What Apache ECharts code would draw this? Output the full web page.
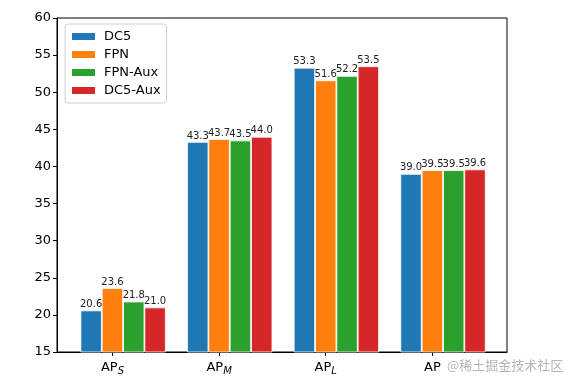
<!DOCTYPE html>
<html>
<head>
<meta charset="utf-8">
<script src="https://cdn.jsdelivr.net/npm/echarts@6/dist/echarts.min.js"></script>
<style>html,body{margin:0;padding:0;background:#fff;}#c{width:565px;height:385px;}</style>
</head>
<body>
<div id="c"></div>
<script>
const categories = ['AP_S', 'AP_M', 'AP_L', 'AP'];
const seriesNames = ['DC5', 'FPN', 'FPN-Aux', 'DC5-Aux'];
const dc5 = [20.6, 43.3, 53.3, 39.0];
const fpn = [23.6, 43.7, 51.6, 39.5];
const fpnAux = [21.8, 43.5, 52.2, 39.5];
const dc5Aux = [21.0, 44.0, 53.5, 39.6];
const yTicks = [15, 20, 25, 30, 35, 40, 45, 50, 55, 60];

const colors = ['#1f77b4', '#ff7f0e', '#2ca02c', '#d62728'];
const allValues = [dc5, fpn, fpnAux, dc5Aux];
const offsets = [-0.2, 0, 0.2, 0.4];
const font = 'DejaVu Sans';

const chart = echarts.init(document.getElementById('c'), null, {renderer: 'canvas'});
const labelFor = function (v) {
  const i = Math.round(v);
  const c = categories[i];
  if (!c) return '';
  const parts = c.split('_');
  return '{a|' + parts[0] + '}{s|' + (parts.length > 1 ? parts[1] : '\u200b') + '}';
};
chart.setOption({
  animation: false,
  backgroundColor: '#fff',
  textStyle: {fontFamily: font},
  grid: {left: 57, right: 58, top: 18, bottom: 33, show: true, borderColor: '#000', borderWidth: 1, containLabel: false},
  legend: {
    data: seriesNames, orient: 'vertical', left: 65, top: 24,
    backgroundColor: '#fff', borderColor: '#d0d0d0', borderWidth: 1, borderRadius: 3,
    padding: [6, 6, 6, 5], itemWidth: 25, itemHeight: 9, itemGap: 5, icon: 'rect',
    textStyle: {fontSize: 13, color: '#000', fontFamily: font, padding: [0, 0, 0, 3]}
  },
  xAxis: {
    type: 'value', min: -0.52, max: 3.70,
    axisLine: {show: true, onZero: false, lineStyle: {color: '#000'}},
    splitLine: {show: false},
    axisTick: {show: true, length: 4, lineStyle: {color: '#000'}, customValues: [0, 1, 2, 3]},
    axisLabel: {
      customValues: [0, 1, 2, 3], margin: 7, color: '#000', fontSize: 13, fontFamily: font,
      formatter: labelFor,
      rich: {
        a: {fontSize: 13, color: '#000', fontFamily: font},
        s: {fontSize: 10, color: '#000', fontFamily: font, fontStyle: 'italic', padding: [7, 0, 0, 0]}
      }
    }
  },
  yAxis: {
    type: 'value', min: 15, max: 60, interval: 5,
    axisLine: {show: true, onZero: false, lineStyle: {color: '#000'}},
    splitLine: {show: false},
    axisTick: {show: true, length: 4, lineStyle: {color: '#000'}},
    axisLabel: {color: '#000', fontSize: 13, fontFamily: font, margin: 6,
      formatter: function (v) { return yTicks.indexOf(v) >= 0 ? String(v) : ''; }}
  },
  series: seriesNames.map(function (name, k) {
    return {
      name: name, type: 'bar', barWidth: 21.3, barGap: '-100%',
      itemStyle: {color: colors[k], borderColor: '#fff', borderWidth: 0.8},
      label: {show: true, position: 'top', distance: 1, fontSize: 10, color: '#222', fontFamily: font,
        formatter: function (p) { return p.value[1].toFixed(1); }},
      data: categories.map(function (c, i) { return [i + offsets[k], allValues[k][i]]; })
    };
  }),
  graphic: [{
    type: 'text', left: 447, top: 359,
    style: {text: '@稀土掘金技术社区', fill: '#b4b4b4', fontSize: 13, fontFamily: 'Noto Sans CJK SC'}
  }]
});
</script>
</body>
</html>
